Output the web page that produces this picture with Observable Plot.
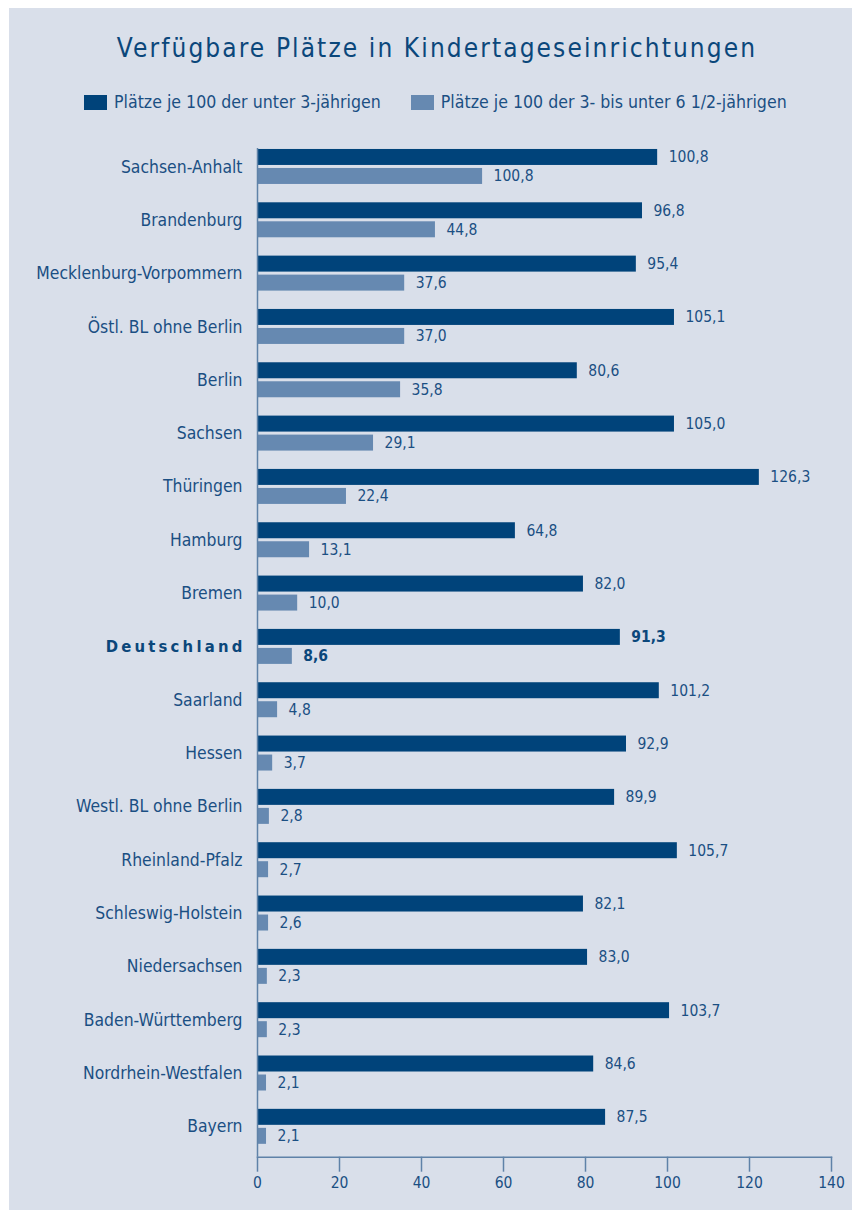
<!DOCTYPE html>
<html>
<head>
<meta charset="utf-8">
<script src="https://cdn.jsdelivr.net/npm/d3@7"></script>
<script src="https://cdn.jsdelivr.net/npm/@observablehq/plot@0.6"></script>
<style>
  html, body { margin: 0; padding: 0; background: #ffffff; }
  body { width: 852px; height: 1210px; position: relative; overflow: hidden;
         font-family: "DejaVu Sans Condensed", "DejaVu Sans", sans-serif; font-stretch: condensed; }
  #panel { position: absolute; left: 9px; top: 8px; width: 843px; height: 1202px; background: #d9dfea; }
  #title { position: absolute; left: 0; top: 33px; width: 874px; text-align: center;
           font-size: 26px; letter-spacing: 2.1px; color: #0b477b; }
  #legend { position: absolute; top: 92px; left: 84px; font-size: 17.6px; color: #1b4f83; white-space: nowrap; }
  .item { display: inline-flex; align-items: center; margin-right: 30px; }
  .sw { display: inline-block; width: 23px; height: 15px; margin-right: 7px; }
  #chart { position: absolute; left: 0; top: 120px; }
</style>
</head>
<body>
<div id="panel"></div>
<div id="title">Verfügbare Plätze in Kindertageseinrichtungen</div>
<div id="legend"></div>
<div id="chart"></div>
<script>
const categories = ["Sachsen-Anhalt","Brandenburg","Mecklenburg-Vorpommern","Östl. BL ohne Berlin","Berlin","Sachsen","Thüringen","Hamburg","Bremen","Deutschland","Saarland","Hessen","Westl. BL ohne Berlin","Rheinland-Pfalz","Schleswig-Holstein","Niedersachsen","Baden-Württemberg","Nordrhein-Westfalen","Bayern"];
const seriesNames = ["Plätze je 100 der unter 3-jährigen","Plätze je 100 der 3- bis unter 6 1/2-jährigen"];
// bar lengths as drawn (read against the axis)
const under3Values = [97.6,93.9,92.4,101.7,78.0,101.7,122.4,62.9,79.5,88.5,98.0,90.0,87.1,102.4,79.5,80.5,100.5,82.0,84.9];
const under6Values = [54.9,43.4,35.9,35.9,34.9,28.3,21.7,12.7,9.8,8.5,4.9,3.7,2.9,2.7,2.7,2.4,2.4,2.2,2.2];
// printed value labels
const under3Labels = ["100,8","96,8","95,4","105,1","80,6","105,0","126,3","64,8","82,0","91,3","101,2","92,9","89,9","105,7","82,1","83,0","103,7","84,6","87,5"];
const under6Labels = ["100,8","44,8","37,6","37,0","35,8","29,1","22,4","13,1","10,0","8,6","4,8","3,7","2,8","2,7","2,6","2,3","2,3","2,1","2,1"];
const xTicks = [0,20,40,60,80,100,120,140];
const highlight = "Deutschland";

const dark = "#00437a", light = "#6689b1", txt = "#1b4f83", axisC = "#5f82a8";

const rows = categories.map((c, i) => ({cat: c, u3: under3Values[i], u6: under6Values[i], l3: under3Labels[i], l6: under6Labels[i]}));
const normal = rows.filter(d => d.cat !== highlight);
const hi = rows.filter(d => d.cat === highlight);

// legend
const legend = document.getElementById("legend");
[[dark, seriesNames[0]], [light, seriesNames[1]]].forEach(([c, n]) => {
  const s = document.createElement("span"); s.className = "item";
  s.innerHTML = `<span class="sw" style="background:${c}"></span>${n}`;
  legend.appendChild(s);
});

const H = 1090;
const plot = Plot.plot({
  width: 852,
  height: H,
  marginLeft: 257,
  marginRight: 21,
  marginTop: 28,
  marginBottom: 53.3,
  style: {background: "transparent", fontFamily: '"DejaVu Sans Condensed", "DejaVu Sans", sans-serif', fontStretch: "condensed", color: txt},
  x: {domain: [0, 140], axis: null},
  y: {domain: categories, axis: null, padding: 0, round: false, insetTop: -8.2, insetBottom: 3.7},
  marks: [
    Plot.barX(rows, {x: "u3", y: "cat", fill: dark, insetTop: 9.17, insetBottom: 28.17}),
    Plot.barX(rows, {x: "u6", y: "cat", fill: light, insetTop: 28.17, insetBottom: 9.17}),
    Plot.ruleX([0], {stroke: axisC, strokeWidth: 1.5}),
    Plot.frame({anchor: "bottom", stroke: axisC, strokeWidth: 1.5}),
    Plot.axisX({ticks: xTicks, tickSize: 15, tickPadding: 5, tickFormat: d => String(d), stroke: axisC, strokeWidth: 1.5, fill: txt, fontSize: 15.5, anchor: "bottom"}),
    Plot.text(normal, {x: "u3", y: "cat", text: "l3", dx: 11, dy: -9.5, textAnchor: "start", fill: txt, fontSize: 15.5}),
    Plot.text(normal, {x: "u6", y: "cat", text: "l6", dx: 11, dy: 9.5, textAnchor: "start", fill: txt, fontSize: 15.5}),
    Plot.text(hi, {x: "u3", y: "cat", text: "l3", dx: 11, dy: -9.5, textAnchor: "start", fill: "#0b477b", fontSize: 15.5, fontWeight: "bold"}),
    Plot.text(hi, {x: "u6", y: "cat", text: "l6", dx: 11, dy: 9.5, textAnchor: "start", fill: "#0b477b", fontSize: 15.5, fontWeight: "bold"}),
    Plot.text(normal, {x: d => 0, y: "cat", text: "cat", dx: -15, textAnchor: "end", fill: txt, fontSize: 17.4}),
    Plot.text(hi, {x: d => 0, y: "cat", text: "cat", dx: -12, textAnchor: "end", fill: "#0b477b", fontSize: 16.5, fontWeight: "bold"})
  ]
});
d3.select(plot).selectAll("text").filter(function() { return this.textContent === highlight; })
  .attr("letter-spacing", "3.2px");
document.getElementById("chart").appendChild(plot);
</script>
</body>
</html>
